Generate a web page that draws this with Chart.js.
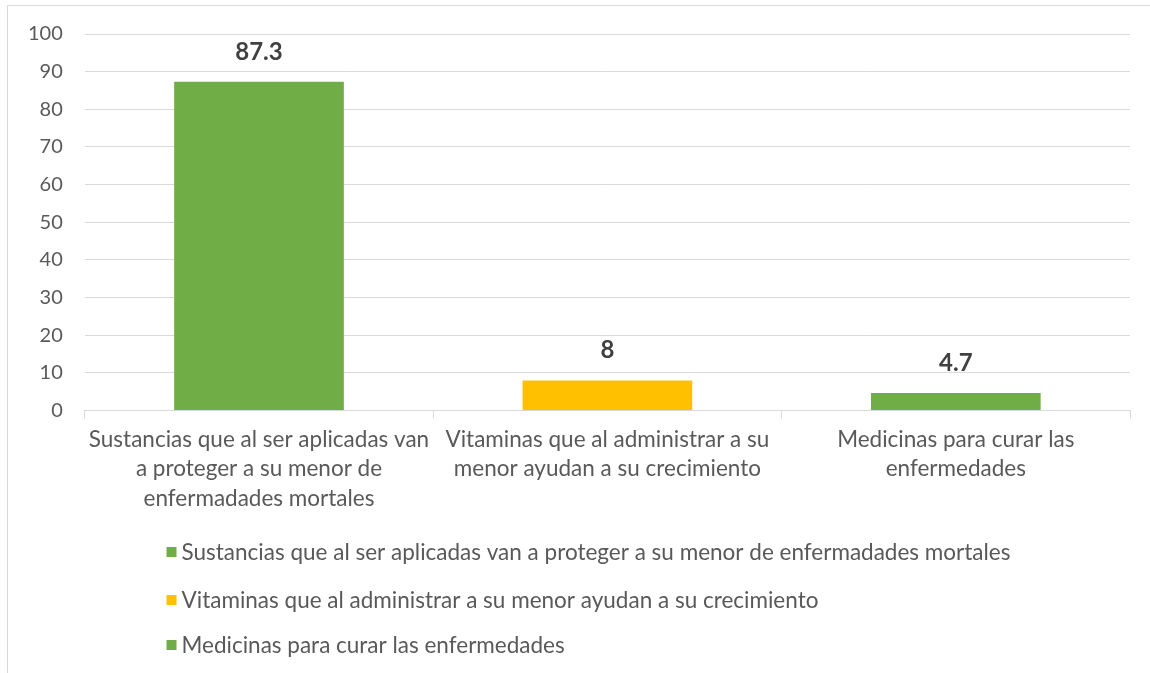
<!DOCTYPE html>
<html>
<head>
<meta charset="utf-8">
<script src="https://cdn.jsdelivr.net/npm/chart.js@4.4.1/dist/chart.umd.min.js"></script>
<style>
  html, body { margin: 0; padding: 0; background: #fff; overflow: hidden; }
  #marco { position: absolute; left: 7px; top: 5px; width: 1200px; height: 700px; border: 1px solid #d9d9d9; }
  #caja { position: absolute; left: 0; top: 0; width: 1150px; height: 673px; }
</style>
</head>
<body>
<div id="marco"></div>
<div id="caja"><canvas id="grafico"></canvas></div>
<script>
// categorías (etiquetas del eje x, partidas en líneas)
const categorias = [
  ['Sustancias que al ser aplicadas van', 'a proteger a su menor de', 'enfermadades mortales'],
  ['Vitaminas que al administrar a su', 'menor ayudan a su crecimiento'],
  ['Medicinas para curar las', 'enfermedades']
];
// textos de la leyenda
const leyenda = [
  'Sustancias que al ser aplicadas van a proteger a su menor de enfermadades mortales',
  'Vitaminas que al administrar a su menor ayudan a su crecimiento',
  'Medicinas para curar las enfermedades'
];
// porcentajes
const valores = [87.3, 8, 4.7];
const colores = ['#70AD47', '#FFC000', '#70AD47'];
const ticksY = [0, 10, 20, 30, 40, 50, 60, 70, 80, 90, 100];

const fuente = 'Lato, "Liberation Sans", sans-serif';

// etiquetas de valor encima de cada barra
const etiquetasValor = {
  id: 'etiquetasValor',
  afterDatasetsDraw(chart) {
    const ctx = chart.ctx;
    const meta = chart.getDatasetMeta(0);
    ctx.save();
    ctx.font = 'bold 24px ' + fuente;
    ctx.fillStyle = '#404040';
    ctx.textAlign = 'center';
    ctx.textBaseline = 'middle';
    meta.data.forEach((barra, i) => {
      ctx.fillText(String(valores[i]), barra.x, barra.y - 30);
    });
    ctx.restore();
  }
};

// leyenda vertical, bloque centrado y elementos alineados a la izquierda
const leyendaVertical = {
  id: 'leyendaVertical',
  afterDraw(chart) {
    const ctx = chart.ctx;
    ctx.save();
    ctx.font = '22.5px ' + fuente;
    let ancho = 0;
    leyenda.forEach(t => { ancho = Math.max(ancho, ctx.measureText(t).width); });
    const xTexto = 596 - ancho / 2;
    const filas = [552, 600, 645];
    ctx.textBaseline = 'middle';
    leyenda.forEach((t, i) => {
      ctx.fillStyle = colores[i];
      ctx.fillRect(xTexto - 15, filas[i] - 5, 10, 10);
      ctx.fillStyle = '#595959';
      ctx.fillText(t, xTexto, filas[i] + 1);
    });
    ctx.restore();
  }
};

const config = {
  type: 'bar',
  data: {
    labels: categorias,
    datasets: [{
      data: valores,
      backgroundColor: colores,
      categoryPercentage: 1,
      barPercentage: 0.487
    }]
  },
  options: {
    responsive: true,
    maintainAspectRatio: false,
    animation: false,
    layout: { padding: { left: 6, right: 20, top: 29, bottom: 154 } },
    plugins: {
      legend: { display: false },
      tooltip: { enabled: false }
    },
    scales: {
      y: {
        min: 0,
        max: 100,
        afterBuildTicks: (eje) => { eje.ticks = ticksY.map(v => ({ value: v })); },
        grid: { color: '#d9d9d9', lineWidth: 1, drawTicks: false },
        border: { display: false },
        ticks: { color: '#595959', font: { family: fuente, size: 20 }, padding: 22 }
      },
      x: {
        grid: { display: true, drawOnChartArea: false, offset: true, color: '#d9d9d9', tickLength: 8 },
        border: { display: true, color: '#d9d9d9' },
        ticks: { color: '#595959', font: { family: fuente, size: 22.5, lineHeight: 1.31 }, maxRotation: 0, autoSkip: false, padding: 6 }
      }
    }
  },
  plugins: [etiquetasValor, leyendaVertical]
};

const ctx = document.getElementById('grafico').getContext('2d');
const grafico = new Chart(ctx, config);
</script>
</body>
</html>
